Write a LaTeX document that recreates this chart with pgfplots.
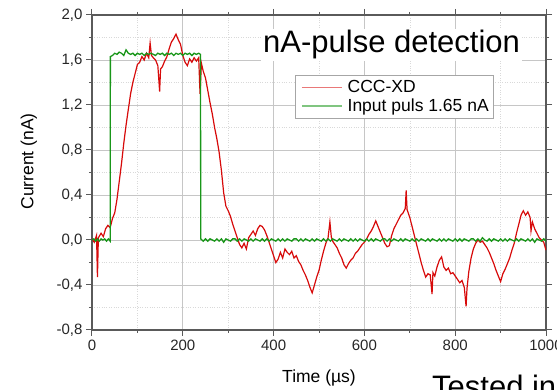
\documentclass[border=0pt]{standalone}
\usepackage{pgfplots}
\pgfplotsset{compat=1.18}
\usepackage{fontspec}
\setmainfont{Liberation Sans}
\definecolor{cred}{RGB}{215,10,10}
\definecolor{cgreen}{RGB}{25,150,25}
\definecolor{axgray}{RGB}{90,90,90}
\begin{document}
\begin{tikzpicture}
\path[use as bounding box] (0,0) rectangle (557pt,390pt);
\begin{axis}[
 at={(92pt,60pt)}, anchor=south west, scale only axis, width=454pt, height=315pt,
 xmin=0, xmax=1000, ymin=-0.8, ymax=2.0,
 xtick={0,200,400,600,800,1000}, xticklabels={0,200,400,600,800,1000},
 ytick={-0.8,-0.4,0,0.4,0.8,1.2,1.6,2.0},
 yticklabels={{-0,8},{-0,4},{0,0},{0,4},{0,8},{1,2},{1,6},{2,0}},
 minor x tick num=1, minor y tick num=1,
 tick align=outside,
 major tick length=6pt, minor tick length=3pt,
 grid=both,
 major grid style={draw=gray!45, line width=0.7pt},
 minor grid style={draw=gray!30, dotted, line width=0.6pt},
 axis line style={draw=axgray, line width=1.4pt},
 every tick/.style={draw=axgray, line width=1pt},
 tick label style={font=\fontsize{15}{18}\selectfont, text=black!85},
 xlabel={Time (µs)}, ylabel={Current (nA)},
 label style={font=\fontsize{17.5}{21}\selectfont},
 xlabel style={at={(axis description cs:0.5,-0.168)}, anchor=base},
 ylabel style={at={(axis description cs:-0.139,0.535)}, anchor=center},
 legend style={at={(axis description cs:0.447,0.81)}, anchor=north west, draw=gray!70, line width=0.8pt, font=\fontsize{17.5}{21}\selectfont, inner xsep=3pt, inner ysep=3pt, cells={anchor=west}, row sep=1pt},
 legend image code/.code={\path (0pt,0pt) (46pt,0pt); \draw[#1, line width=1.2pt, opacity=0.55] (3pt,0pt) -- (43pt,0pt);},
]
\addplot[cred, line width=1.2pt] coordinates {
(0,0.01)(5,-0.02)(10,0.04)(12,-0.33)(14,0.02)(20,0.06)(25,0.03)(30,0.10)(35,0.13)(40,0.11)(45,0.19)
(50,0.24)(55,0.36)(60,0.52)(65,0.68)(70,0.86)(75,1.02)(80,1.16)(85,1.30)(90,1.40)(95,1.48)
(100,1.56)(105,1.58)(110,1.63)(115,1.60)(120,1.66)(125,1.62)(128,1.75)(131,1.64)(135,1.62)(140,1.60)
(145,1.55)(149,1.32)(151,1.52)(155,1.54)(160,1.59)(165,1.63)(170,1.70)(175,1.76)(180,1.79)(185,1.83)
(190,1.78)(195,1.74)(200,1.64)(205,1.58)(210,1.55)(215,1.61)(220,1.58)(225,1.62)(230,1.59)(235,1.62)
(238,1.30)(241,1.57)(245,1.50)(250,1.44)(255,1.33)(260,1.22)(265,1.12)(270,1.00)(275,0.90)(280,0.78)
(285,0.62)(290,0.42)(295,0.30)(300,0.26)(305,0.21)(310,0.14)(315,0.08)(320,0.02)(325,-0.04)(330,-0.07)
(335,-0.03)(340,-0.08)(345,0.02)(350,0.05)(355,0.08)(360,0.04)(365,0.10)(370,0.13)(375,0.12)(380,0.09)
(385,0.04)(390,-0.02)(395,-0.08)(400,-0.14)(405,-0.20)(410,-0.17)(415,-0.11)(420,-0.16)(425,-0.08)(430,-0.11)
(435,-0.13)(440,-0.10)(445,-0.16)(450,-0.14)(455,-0.19)(460,-0.22)(465,-0.27)(470,-0.31)(475,-0.36)(480,-0.42)
(485,-0.47)(490,-0.40)(495,-0.33)(500,-0.27)(505,-0.18)(510,-0.10)(515,-0.03)(520,0.02)(524,0.16)(527,0.03)
(530,-0.01)(535,-0.04)(540,-0.07)(545,-0.12)(550,-0.16)(555,-0.22)(560,-0.25)(565,-0.21)(570,-0.18)(575,-0.16)
(580,-0.12)(585,-0.10)(590,-0.07)(595,-0.04)(600,-0.02)(605,0.01)(610,0.05)(615,0.08)(620,0.12)(625,0.17)
(630,0.12)(635,0.07)(640,0.02)(645,-0.03)(650,-0.06)(655,-0.05)(660,0.04)(665,0.10)(670,0.14)(675,0.18)
(680,0.22)(685,0.24)(690,0.28)(692,0.44)(694,0.27)(700,0.20)(705,0.12)(710,0.04)(715,-0.04)(720,-0.12)
(725,-0.20)(730,-0.27)(735,-0.33)(740,-0.30)(745,-0.31)(749,-0.48)(751,-0.29)(755,-0.32)(760,-0.24)(765,-0.18)
(770,-0.15)(775,-0.24)(780,-0.27)(785,-0.25)(790,-0.30)(795,-0.29)(800,-0.32)(805,-0.35)(810,-0.38)(815,-0.36)
(820,-0.42)(824,-0.59)(826,-0.43)(830,-0.28)(835,-0.16)(840,-0.08)(845,-0.03)(850,0.00)(855,-0.02)(860,-0.01)
(865,-0.04)(870,-0.07)(875,-0.11)(880,-0.16)(885,-0.21)(890,-0.27)(895,-0.32)(900,-0.37)(905,-0.30)(910,-0.26)
(915,-0.21)(920,-0.16)(925,-0.09)(930,-0.03)(935,0.06)(940,0.14)(945,0.22)(950,0.26)(955,0.22)(960,0.25)
(965,0.20)(967,0.08)(970,0.16)(975,0.10)(980,0.06)(985,0.02)(990,0.00)(995,-0.02)(1000,-0.09)
};
\addlegendentry{CCC-XD}
\addplot[cgreen, line width=1.3pt] coordinates {
(0,0.00)(4,0.01)(8,-0.01)(12,0.01)(16,-0.01)(20,0.01)(24,0.00)(28,0.01)(32,-0.01)(36,0.01)(40,-0.01)
(40.5,1.63)(45,1.64)(50,1.66)(55,1.65)(60,1.67)(65,1.66)(70,1.64)(75,1.69)(80,1.66)(85,1.65)(90,1.66)
(95,1.64)(100,1.66)(105,1.65)(110,1.66)(115,1.64)(120,1.66)(125,1.65)(130,1.66)(135,1.65)(140,1.64)
(145,1.66)(150,1.65)(155,1.66)(160,1.64)(165,1.66)(170,1.65)(175,1.66)(180,1.64)(185,1.66)(190,1.65)
(195,1.66)(200,1.64)(205,1.66)(210,1.65)(215,1.66)(220,1.64)(225,1.66)(230,1.65)(235,1.66)(239,1.65)
(239.5,0.01)(245,-0.01)(250,0.01)(255,-0.01)(260,0.01)(265,0.00)(270,-0.01)(275,0.01)(280,-0.01)(285,0.01)
(290,-0.02)(295,0.01)(300,0.00)(305,-0.01)(310,0.01)(315,0.01)(320,-0.01)(325,0.01)(330,-0.01)(335,0.01)
(340,0.00)(345,-0.01)(350,0.01)(355,-0.01)(360,0.01)(365,0.00)(370,-0.01)(375,0.01)(380,-0.01)(385,0.01)
(390,-0.01)(395,0.01)(400,0.00)(405,-0.01)(410,0.01)(415,-0.01)(420,0.01)(425,-0.01)(430,0.01)(435,0.00)
(440,-0.01)(445,0.01)(450,0.01)(455,-0.01)(460,0.01)(465,-0.01)(470,0.01)(475,0.00)(480,-0.01)(485,0.01)
(490,-0.01)(495,0.01)(500,0.00)(505,-0.01)(510,0.01)(515,-0.01)(520,0.01)(525,-0.01)(530,0.01)(535,0.00)
(540,-0.01)(545,0.01)(550,-0.01)(555,0.01)(560,0.00)(565,-0.01)(570,0.01)(575,-0.01)(580,0.01)(585,-0.01)
(590,0.01)(595,0.00)(600,-0.01)(605,0.01)(610,-0.01)(615,0.01)(620,-0.01)(625,0.01)(630,0.00)(635,-0.01)
(640,0.01)(645,0.01)(650,-0.01)(655,0.01)(660,-0.01)(665,0.01)(670,0.00)(675,-0.01)(680,0.01)(685,-0.01)
(690,0.01)(695,0.00)(700,-0.01)(705,0.01)(710,-0.01)(715,0.01)(720,-0.01)(725,0.01)(730,0.00)(735,-0.01)
(740,0.01)(745,-0.01)(750,0.01)(755,0.00)(760,-0.01)(765,0.01)(770,-0.01)(775,0.01)(780,-0.01)(785,0.01)
(790,0.00)(795,-0.01)(800,0.01)(805,-0.01)(810,0.01)(815,-0.01)(820,0.01)(825,0.00)(830,-0.01)(835,0.01)
(840,0.01)(845,-0.01)(850,0.01)(855,-0.01)(860,0.02)(865,0.00)(870,-0.01)(875,0.01)(880,-0.01)(885,0.01)
(890,0.00)(895,-0.01)(900,0.01)(905,-0.01)(910,0.01)(915,-0.01)(920,0.01)(925,0.00)(930,-0.01)(935,0.01)
(940,-0.01)(945,0.01)(950,0.00)(955,-0.01)(960,0.01)(965,-0.01)(970,0.01)(975,-0.02)(980,0.01)(985,0.00)
(990,-0.01)(995,0.01)(1000,-0.01)
};
\addlegendentry{Input puls 1.65 nA}
\end{axis}
\node[anchor=base west, fill=white, inner sep=2pt, font=\fontsize{31}{36}\selectfont] at (261pt,337pt) {nA-pulse detection};
\node[anchor=base west, inner sep=0pt, font=\fontsize{31}{36}\selectfont] at (432pt,-8pt) {Tested in};
\end{tikzpicture}
\end{document}
